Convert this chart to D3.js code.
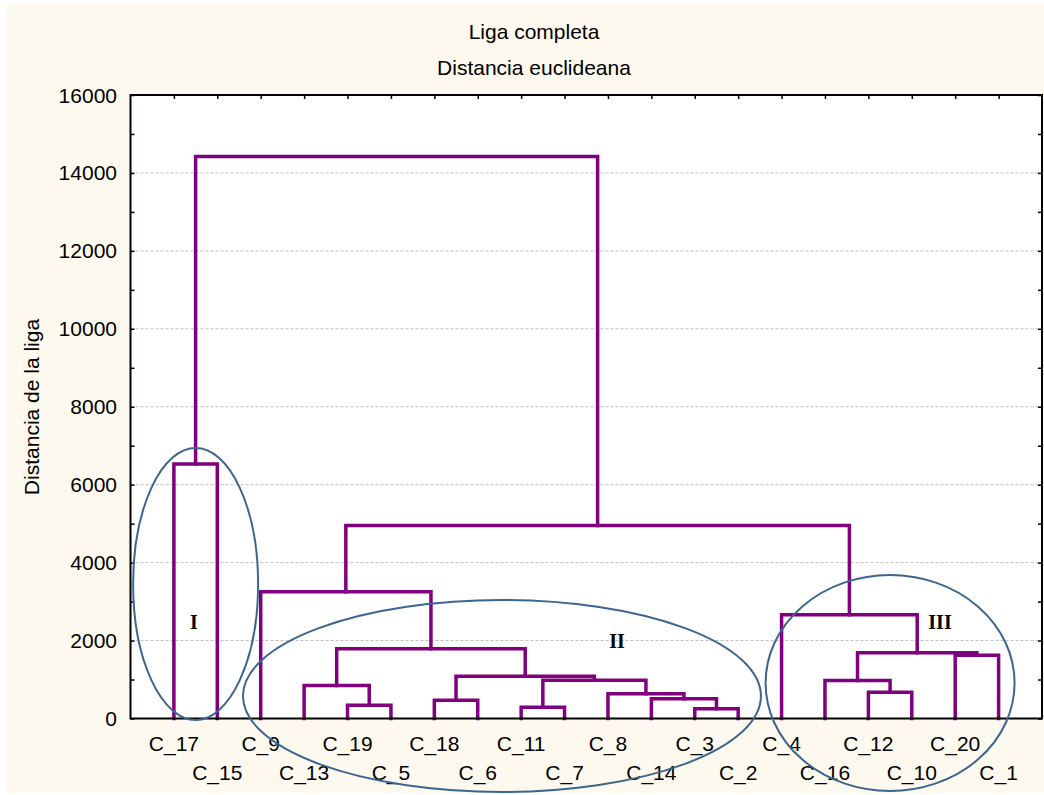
<!DOCTYPE html>
<html>
<head>
<meta charset="utf-8">
<script src="https://cdn.jsdelivr.net/npm/d3@7"></script>
<style>
  html, body { margin: 0; padding: 0; background: #ffffff; }
  svg { display: block; }
  text { font-family: "Liberation Sans", Arial, sans-serif; fill: #000; }
</style>
</head>
<body>
<svg id="chart" width="1044" height="795"></svg>
<script>
// ---- Data ----
const leaves = ["C_17","C_15","C_9","C_13","C_19","C_5","C_18","C_6","C_11","C_7",
                "C_8","C_14","C_3","C_2","C_4","C_16","C_12","C_10","C_20","C_1"];
// merges: [id, childA, childB, linkage distance]
const merges = [
  ["m1","C_19","C_5",340],
  ["m2","C_13","m1",850],
  ["m3","C_18","C_6",470],
  ["m4","C_11","C_7",290],
  ["m5","C_3","C_2",250],
  ["m6","C_14","m5",505],
  ["m7","C_8","m6",635],
  ["m8","m4","m7",980],
  ["m9","m3","m8",1085],
  ["m10","m2","m9",1790],
  ["m11","C_9","m10",3250],
  ["m12","C_12","C_10",675],
  ["m13","C_16","m12",975],
  ["m14","C_20","C_1",1625],
  ["m15","m13","m14",1685],
  ["m16","C_4","m15",2665],
  ["m17","m11","m16",4950],
  ["m18","C_17","C_15",6530],
  ["m19","m18","m17",14420]
];
const yTicks = [0,2000,4000,6000,8000,10000,12000,14000,16000];
const yMinor = [1000,3000,5000,7000,9000,11000,13000,15000];
const titles = ["Liga completa","Distancia euclideana"];
const yLabel = "Distancia de la liga";
// cluster groups: [label, leaves in group]
const groups = [
  ["I", ["C_17","C_15"]],
  ["II", ["C_9","C_13","C_19","C_5","C_18","C_6","C_11","C_7","C_8","C_14","C_3","C_2"]],
  ["III", ["C_4","C_16","C_12","C_10","C_20","C_1"]]
];

// ---- Layout ----
const svg = d3.select("#chart");
const L = 130.5, R = 1042, T = 95, B = 718.5;
const FS = 21;
const x = d3.scaleLinear().domain([0, leaves.length + 1]).range([L, R]);
const y = d3.scaleLinear().domain([0, 16000]).range([B, T]);

// background
svg.append("rect").attr("x",7).attr("y",3).attr("width",1037).attr("height",790).attr("fill","#fdf9ee");
svg.append("rect").attr("x",L).attr("y",T).attr("width",R-L).attr("height",B-T).attr("fill","#ffffff");

// gridlines
svg.append("g").selectAll("line").data(yTicks.filter(d => d > 0 && d < 16000)).join("line")
  .attr("x1",L).attr("x2",R).attr("y1",d=>y(d)).attr("y2",d=>y(d))
  .attr("stroke","#bdbdbd").attr("stroke-width",1).attr("stroke-dasharray","3,2");

// titles
svg.append("text").attr("x",534).attr("y",39).attr("text-anchor","middle").attr("font-size",FS).text(titles[0]);
svg.append("text").attr("x",534).attr("y",75).attr("text-anchor","middle").attr("font-size",FS).text(titles[1]);

// y label
svg.append("text").attr("transform","translate(39,407) rotate(-90)").attr("text-anchor","middle")
  .attr("font-size",FS).text(yLabel);

// axes (ticks inward)
const leafIdx = leaves.map((d,i)=>i+1);
svg.append("g").attr("transform",`translate(${L},0)`)
  .call(d3.axisRight(y).tickValues(yTicks.concat(yMinor)).tickSize(4).tickFormat(""))
  .call(g=>g.select(".domain").remove());
svg.append("g").attr("transform",`translate(${R},0)`)
  .call(d3.axisLeft(y).tickValues(yTicks.concat(yMinor)).tickSize(4).tickFormat(""))
  .call(g=>g.select(".domain").remove());
svg.append("g").attr("transform",`translate(0,${T})`)
  .call(d3.axisBottom(x).tickValues(leafIdx).tickSize(4).tickFormat(""))
  .call(g=>g.select(".domain").remove());
svg.append("g").attr("transform",`translate(0,${B})`)
  .call(d3.axisTop(x).tickValues(leafIdx).tickSize(4).tickFormat(""))
  .call(g=>g.select(".domain").remove());
svg.selectAll(".tick line").attr("stroke","#000").attr("stroke-width",1.5);

// y tick labels
svg.append("g").selectAll("text").data(yTicks).join("text")
  .attr("x",117).attr("y",d=>y(d)).attr("dy","0.36em").attr("text-anchor","end")
  .attr("font-size",FS).text(d=>d);

// x labels (alternating rows)
svg.append("g").selectAll("text").data(leaves).join("text")
  .attr("x",(d,i)=>x(i+1)).attr("y",(d,i)=> i%2===0 ? 751 : 780)
  .attr("text-anchor","middle").attr("font-size",FS).text(d=>d);

// ---- Dendrogram ----
const pos = {};
leaves.forEach((d,i)=>{ pos[d] = {x: x(i+1), h: 0}; });
merges.forEach(([id,a,b,h])=>{ pos[id] = {x:(pos[a].x+pos[b].x)/2, h}; });
const dg = svg.append("g");
merges.forEach(([id,a,b,h])=>{
  const pa = pos[a], pb = pos[b];
  dg.append("path")
    .attr("d", `M${pa.x},${y(pa.h)}V${y(h)}H${pb.x}V${y(pb.h)}`)
    .attr("fill","none").attr("stroke","#800080").attr("stroke-width",3.5)
    .attr("stroke-linejoin","miter").attr("stroke-linecap","square");
});

// frame
svg.append("rect").attr("x",L).attr("y",T).attr("width",R-L).attr("height",B-T)
  .attr("fill","none").attr("stroke","#000").attr("stroke-width",2);

// ---- Cluster ellipses ----
const ellipses = [
  {g:0, dx:0,  cy:584, rx:62.5, ry:136, lx:194, ly:629},
  {g:1, dx:2.5, cy:696, rx:259,  ry:96,  lx:617, ly:648},
  {g:2, dx:0,  cy:683, rx:124.5, ry:108, lx:940, ly:629}
];
ellipses.forEach(e=>{
  const mem = groups[e.g][1].map(n=>pos[n].x);
  const cx = (d3.min(mem) + d3.max(mem)) / 2 + e.dx;
  svg.append("ellipse").attr("cx",cx).attr("cy",e.cy)
    .attr("rx",e.rx).attr("ry",e.ry)
    .attr("fill","none").attr("stroke","#3c6590").attr("stroke-width",2);
  svg.append("text").attr("x",e.lx).attr("y",e.ly).attr("text-anchor","middle")
    .style("font-family","'Liberation Serif', 'Times New Roman', serif").attr("font-weight","bold")
    .attr("font-size",20).text(groups[e.g][0]);
});
</script>
</body>
</html>
